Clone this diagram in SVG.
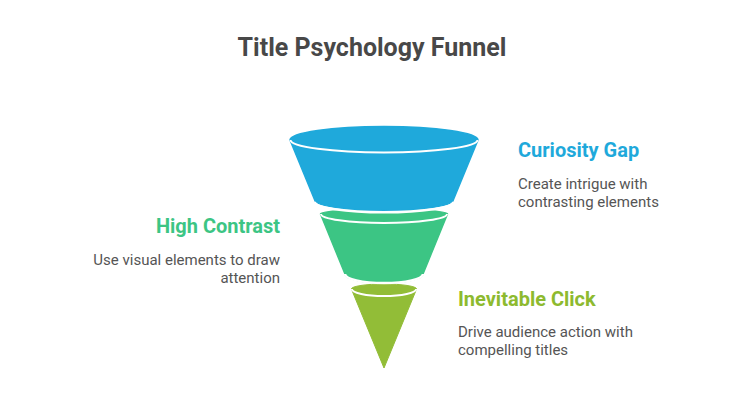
<svg xmlns="http://www.w3.org/2000/svg" width="744" height="419" viewBox="0 0 744 419">
<style>
.title{font-family:Roboto,"Liberation Sans",sans-serif;font-weight:700;font-size:25px;fill:#484848}
.h{font-family:Roboto,"Liberation Sans",sans-serif;font-weight:700;font-size:20px}
.d{font-family:Roboto,"Liberation Sans",sans-serif;font-size:15px;fill:#555555}
.rim{fill:none;stroke:#ffffff;stroke-width:2}
.blue{fill:#1fa9db}
.green{fill:#3cc584}
.olive{fill:#92bd37}
</style>
<rect width="744" height="419" fill="#ffffff"/>
<text class="title" x="372" y="56" text-anchor="middle">Title Psychology Funnel</text>
<g id="inevitable-click">
<path class="olive" stroke="#92bd37" stroke-width="1" stroke-linejoin="round" d="M351.4,289 A32.6,5 0 0 1 416.6,289 L384,368 Z"/>
<path class="rim" d="M351.8,289 A32.2,7 0 0 0 416.2,289"/>
<text class="h" x="458" y="306" fill="#8dba2f">Inevitable Click</text>
<text class="d" x="458" y="337">Drive audience action with</text>
<text class="d" x="458" y="355">compelling titles</text>
</g>
<g id="high-contrast">
<path class="green" stroke="#3cc584" stroke-width="1.5" stroke-linejoin="round" d="M320.5,214 A63.5,4.5 0 0 1 447.5,214 L423,274 A39,9 0 0 1 345,274 Z"/>
<path class="rim" d="M321,214 A63,9 0 0 0 447,214"/>
<path fill="none" stroke="#ffffff" stroke-width="2.5" d="M345,274 A39,9 0 0 0 423,274"/>
<text class="h" x="280" y="233" text-anchor="end" fill="#3cc584">High Contrast</text>
<text class="d" x="280" y="265" text-anchor="end">Use visual elements to draw</text>
<text class="d" x="280" y="283" text-anchor="end">attention</text>
</g>
<g id="curiosity-gap">
<path class="blue" stroke="#1fa9db" stroke-width="1.5" stroke-linejoin="round" d="M290,140 A94,13.5 0 0 1 478,140 L453.3,200 A69.3,10.5 0 0 1 314.7,200 Z"/>
<path class="rim" d="M290.5,140 A93.5,12.5 0 0 0 477.5,140"/>
<path fill="none" stroke="#ffffff" stroke-width="2.5" d="M314.7,200 A69.3,10.5 0 0 0 453.3,200" transform="translate(0,1.8)"/>
<text class="h" x="518" y="157" fill="#1fa9db">Curiosity Gap</text>
<text class="d" x="518" y="189">Create intrigue with</text>
<text class="d" x="518" y="207">contrasting elements</text>
</g>
<g id="connectors"></g>
</svg>
